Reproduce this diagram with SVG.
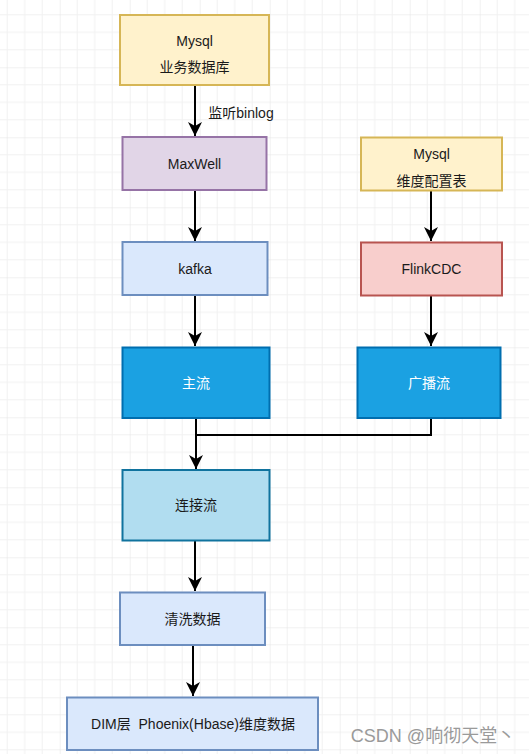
<svg xmlns="http://www.w3.org/2000/svg" width="529" height="754" viewBox="0 0 529 754">
<defs>
<pattern id="grid" x="59.7" y="67.3" width="70" height="70" patternUnits="userSpaceOnUse">
<path d="M17.5 0V70M35 0V70M52.5 0V70M0 17.5H70M0 35H70M0 52.5H70" stroke="#f1f1f1" stroke-width="1" fill="none"/>
<path d="M0 0V70M0 0H70" stroke="#e3e3e3" stroke-width="1" fill="none"/>
</pattern>
<marker id="arr" markerUnits="userSpaceOnUse" markerWidth="16" markerHeight="16" viewBox="0 0 16 16" refX="15" refY="8" orient="auto">
<path d="M1 1L15 8L1 15L5 8Z" fill="#000"/>
</marker>
<style>
text{font-family:"Liberation Sans","Noto Sans CJK SC",Arial,sans-serif;font-size:14px;text-anchor:middle;fill:#1a1a1a}
.yellow{fill:#fff2cc;stroke:#d6b656;stroke-width:2}
.purple{fill:#e1d5e7;stroke:#9673a6;stroke-width:2}
.blue{fill:#dae8fc;stroke:#6c8ebf;stroke-width:2}
.red{fill:#f8cecc;stroke:#b85450;stroke-width:2}
.dark{fill:#1ba1e2;stroke:#006eaf;stroke-width:2}
.light{fill:#b1ddf0;stroke:#10739e;stroke-width:2}
.w{fill:#ffffff}
.edge{fill:none;stroke:#000;stroke-width:2}
</style>
</defs>
<rect width="529" height="754" fill="#ffffff"/>
<rect width="529" height="754" fill="url(#grid)"/>

<g id="connectors">
<path class="edge" d="M195 85V136" marker-end="url(#arr)"/>
<path class="edge" d="M195 190V241" marker-end="url(#arr)"/>
<path class="edge" d="M195 295V346" marker-end="url(#arr)"/>
<path class="edge" d="M431 190.7V241" marker-end="url(#arr)"/>
<path class="edge" d="M431 295V346" marker-end="url(#arr)"/>
<path class="edge" d="M196 418V469" marker-end="url(#arr)"/>
<path class="edge" d="M431 418V435H196"/>
<path class="edge" d="M195 540V591" marker-end="url(#arr)"/>
<path class="edge" d="M193 645V696" marker-end="url(#arr)"/>
<text x="241" y="118" style="text-anchor:middle">监听binlog</text>
</g>

<g id="mysql-biz">
<rect class="yellow" x="120" y="15" width="149" height="70"/>
<text x="194.5" y="46">Mysql</text>
<text x="194.5" y="72">业务数据库</text>
</g>
<g id="maxwell">
<rect class="purple" x="122.5" y="137" width="144" height="53"/>
<text x="194.5" y="168.5">MaxWell</text>
</g>
<g id="kafka">
<rect class="blue" x="122.5" y="242" width="145" height="53"/>
<text x="195" y="273.5">kafka</text>
</g>
<g id="mysql-dim">
<rect class="yellow" x="361" y="137.5" width="141" height="53"/>
<text x="431.5" y="159">Mysql</text>
<text x="431.5" y="186">维度配置表</text>
</g>
<g id="flinkcdc">
<rect class="red" x="361" y="242.5" width="141" height="53"/>
<text x="431.5" y="273.5">FlinkCDC</text>
</g>
<g id="main-stream">
<rect class="dark" x="122.5" y="347.5" width="147" height="70.5"/>
<text class="w" x="196" y="387.5">主流</text>
</g>
<g id="broadcast-stream">
<rect class="dark" x="357.5" y="347.5" width="143" height="70.5"/>
<text class="w" x="429" y="387.5">广播流</text>
</g>
<g id="connect-stream">
<rect class="light" x="122.5" y="470" width="147" height="70.5"/>
<text x="196" y="510">连接流</text>
</g>
<g id="clean-data">
<rect class="blue" x="120" y="592.5" width="145" height="52.5"/>
<text x="192.5" y="623.5">清洗数据</text>
</g>
<g id="dim-layer">
<rect class="blue" x="67" y="697.5" width="251" height="52.5"/>
<text x="193" y="728.5" xml:space="preserve" style="white-space:pre">DIM层  Phoenix(Hbase)维度数据</text>
</g>
<text x="433" y="742" style="font-size:18px;fill:#9a9a9a">CSDN @响彻天堂丶</text>
</svg>
